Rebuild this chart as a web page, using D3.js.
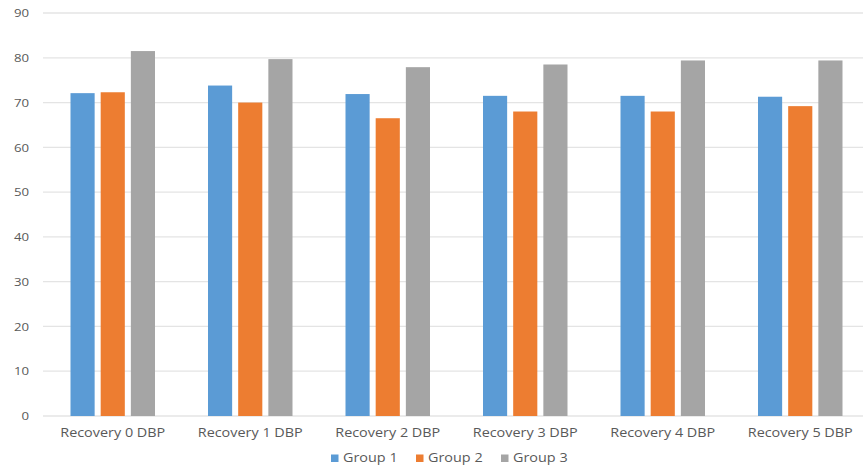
<!DOCTYPE html>
<html>
<head>
<meta charset="utf-8">
<script src="https://cdn.jsdelivr.net/npm/d3@7/dist/d3.min.js"></script>
<style>
  html, body { margin: 0; padding: 0; background: #fff; }
  svg { display: block; }
  text { font-family: "Open Sans", "Liberation Sans", sans-serif; fill: #595959; }
</style>
</head>
<body>
<svg id="chart" width="863" height="467"></svg>
<script>
// Diastolic blood pressure during recovery, by group
const categories = ["Recovery 0 DBP", "Recovery 1 DBP", "Recovery 2 DBP", "Recovery 3 DBP", "Recovery 4 DBP", "Recovery 5 DBP"];
const seriesNames = ["Group 1", "Group 2", "Group 3"];
const group1 = [72.1, 73.8, 71.9, 71.5, 71.5, 71.3];
const group2 = [72.3, 70.0, 66.5, 68.0, 68.0, 69.2];
const group3 = [81.5, 79.7, 77.9, 78.5, 79.4, 79.4];
const yTicks = [0, 10, 20, 30, 40, 50, 60, 70, 80, 90];
const colors = ["#5b9bd5", "#ed7d31", "#a5a5a5"];

const seriesValues = [group1, group2, group3];

const svg = d3.select("#chart");
const W = 863, H = 467;
const plot = { left: 44, right: 869, top: 13, bottom: 416 };
const textColor = "#6a6a6a";
const stretch = "scale(1.2,1)";

const x0 = d3.scaleBand().domain(categories).range([plot.left, plot.right]).paddingInner(0).paddingOuter(0);
const x1 = d3.scaleBand().domain(seriesNames).range([26.5, x0.bandwidth() - 26.5]).paddingInner(0.2).paddingOuter(0);
const y = d3.scaleLinear().domain([0, 90]).range([plot.bottom, plot.top]);

// horizontal gridlines
svg.append("g")
  .selectAll("line")
  .data(yTicks)
  .join("line")
  .attr("x1", 43).attr("x2", W)
  .attr("y1", d => y(d)).attr("y2", d => y(d))
  .attr("stroke", "#e4e4e4")
  .attr("stroke-width", 1.3);

// y axis labels
const yAxis = d3.axisLeft(y).tickValues(yTicks).tickSize(0).tickPadding(0);
svg.append("g")
  .attr("transform", "translate(29,0)")
  .call(yAxis)
  .call(g => g.select(".domain").remove())
  .call(g => g.selectAll("text")
    .attr("font-family", "Open Sans, sans-serif")
    .attr("font-size", 11.5)
    .attr("fill", textColor)
    .attr("transform", "scale(1.15,1)"));

// bars
const groups = svg.append("g")
  .selectAll("g")
  .data(categories)
  .join("g")
  .attr("transform", d => `translate(${x0(d)},0)`);

groups.selectAll("rect")
  .data((c, i) => seriesNames.map((s, j) => ({ s, j, v: seriesValues[j][i] })))
  .join("rect")
  .attr("x", d => x1(d.s))
  .attr("width", x1.bandwidth())
  .attr("y", d => y(d.v))
  .attr("height", d => y(0) - y(d.v))
  .attr("fill", d => colors[d.j]);

// category axis
const xAxis = d3.axisBottom(x0).tickSize(0).tickPadding(0);
svg.append("g")
  .attr("transform", `translate(0,${plot.bottom + 12})`)
  .call(xAxis)
  .call(g => g.select(".domain").remove())
  .call(g => g.selectAll("text")
    .attr("font-family", "Open Sans, sans-serif")
    .attr("font-size", 12)
    .attr("fill", textColor)
    .attr("transform", stretch));

// legend
const legendX = [331, 416, 501];
const legend = svg.append("g")
  .selectAll("g")
  .data(seriesNames)
  .join("g")
  .attr("transform", (d, i) => `translate(${legendX[i]},458)`);
legend.append("rect")
  .attr("x", 0).attr("y", -3.5)
  .attr("width", 7.5).attr("height", 7.5)
  .attr("fill", (d, i) => colors[i]);
legend.append("text")
  .attr("x", 12).attr("y", 0)
  .attr("dy", "0.35em")
  .attr("font-size", 12)
  .attr("fill", textColor)
  .attr("transform", "translate(12,0) scale(1.2,1) translate(-12,0)")
  .text(d => d);
</script>
</body>
</html>
